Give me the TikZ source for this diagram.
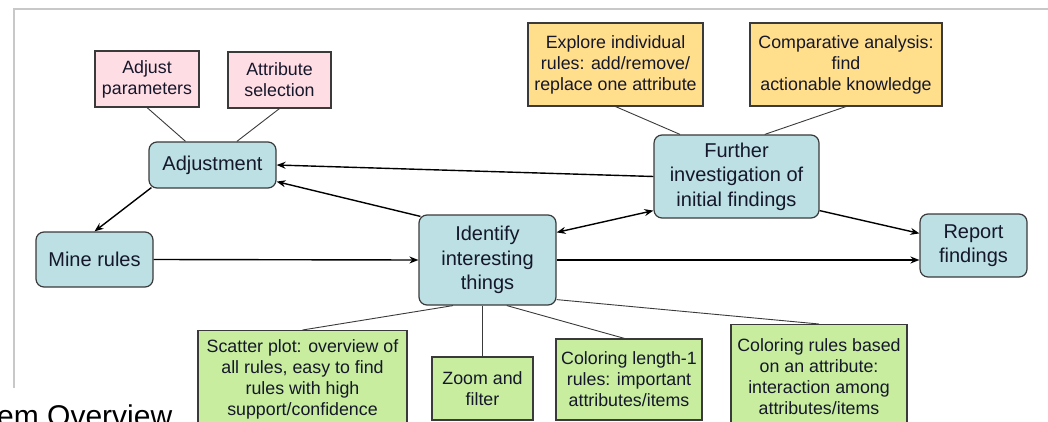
\documentclass[tikz,border=0pt]{standalone}
\usepackage{fontspec}
\setsansfont{Liberation Sans}
\usepackage{xcolor}
\definecolor{ink}{HTML}{15172A}
\definecolor{edge}{HTML}{3A3A3A}
\definecolor{cStageBg}{HTML}{BCE0E4}
\definecolor{cTuneBg}{HTML}{FFDDE4}
\definecolor{cProbeBg}{HTML}{FFDE8C}
\definecolor{cViewBg}{HTML}{C8ED9F}
\definecolor{cFrame}{HTML}{C8C8C8}
\usepackage{tikz}
\usetikzlibrary{arrows.meta,positioning,calc}
\tikzset{>={Stealth[length=9pt,width=7pt]},
  stage/.style={draw=edge,line width=1.2pt,rounded corners=8pt,fill=cStageBg,align=center,
    inner sep=2pt,text=ink,font=\sffamily\fontsize{20}{24.5}\selectfont},
  note/.style={draw=edge,line width=1.1pt,fill=cTuneBg,align=center,inner sep=2pt,
    text=ink,font=\sffamily\fontsize{17.8}{21}\selectfont},
  tunebox/.style={note,fill=cTuneBg},
  probebox/.style={note,fill=cProbeBg},
  viewbox/.style={note,fill=cViewBg},
  flow/.style={->,line width=1.4pt,black},
  flowb/.style={<->,line width=1.4pt,black},
  link/.style={line width=0.9pt,edge},
  frameline/.style={line width=2pt,cFrame}}

\begin{document}
\begin{tikzpicture}[x=1pt,y=-1pt]
  \useasboundingbox (0,0) rectangle (1048,422);
  \draw[frameline] (14,388) -- (14,9) -- (1048,9);
  \node[anchor=base west,inner sep=0pt,text=black,font=\sffamily\fontsize{30}{36}\selectfont]
    (title) at (-3,426) {em Overview};
  % main stages
  \node[stage,minimum width=127pt,minimum height=46pt] (adjust) at (212.5,165) {Adjustment};
  \node[stage,minimum width=117pt,minimum height=55pt] (mine) at (94.5,259.5) {Mine rules};
  \node[stage,minimum width=137pt,minimum height=90pt] (ident) at (487.5,260) {Identify\\interesting\\things};
  \node[stage,minimum width=165pt,minimum height=83pt] (further) at (736.5,176.5) {Further\\investigation of\\initial findings};
  \node[stage,minimum width=107pt,minimum height=63pt] (report) at (973.5,245.5) {Report\\findings};
  % annotations
  \node[tunebox,minimum width=104pt,minimum height=56pt] (adjpar) at (147,79) {Adjust\\parameters};
  \node[tunebox,minimum width=103pt,minimum height=56pt] (attsel) at (279.5,80) {Attribute\\selection};
  \node[probebox,minimum width=175pt,minimum height=83pt] (explore) at (615.5,64.5) {Explore individual\\rules: add/remove/\\replace one attribute};
  \node[probebox,minimum width=192pt,minimum height=83pt] (compar) at (846,64.5) {Comparative analysis:\\find\\actionable knowledge};
  \node[viewbox,anchor=north,minimum width=209pt,minimum height=98pt] (scatter) at (302.5,330) {Scatter plot: overview of\\all rules, easy to find\\rules with high\\support/confidence};
  \node[viewbox,minimum width=101pt,minimum height=63pt] (zoomf) at (482.5,388.5) {Zoom and\\filter};
  \node[viewbox,minimum width=146pt,minimum height=81pt] (colone) at (629,379.5) {Coloring length-1\\rules: important\\attributes/items};
  \node[viewbox,anchor=north,minimum width=176pt,minimum height=104pt] (colattr) at (819,324) {Coloring rules based\\on an attribute:\\interaction among\\attributes/items};
  % annotation links
  \draw[link] (adjpar.south) -- ($(adjust.north west)!0.29!(adjust.north east)$);
  \draw[link] (attsel.south) -- ($(adjust.north west)!0.69!(adjust.north east)$);
  \draw[link] ($(explore.south west)!0.5!(explore.south east)$) -- ($(further.north west)!0.16!(further.north east)$);
  \draw[link] (compar.south) -- ($(further.north west)!0.67!(further.north east)$);
  \draw[link] ($(ident.south west)!0.25!(ident.south east)$) -- (scatter.north);
  \draw[link] (zoomf.north |- ident.south) -- (zoomf.north);
  \draw[link] ($(ident.south west)!0.64!(ident.south east)$) -- ($(colone.north west)!0.47!(colone.north east)$);
  \draw[link] ($(ident.south east)+(0,-6)$) -- (colattr.north);
  % flow arrows
  \draw[flow] (further.west) -- (adjust.east);
  \draw[flow] ($(ident.north west)+(2,2)$) -- ($(adjust.south east)+(0,-7)$);
  \draw[flow] ($(adjust.south west)+(3,-1)$) -- (mine.north);
  \draw[flow] (mine.east) -- (ident.west);
  \draw[flowb] ($(ident.north east)+(0,18)$) -- ($(further.south west)+(0,-8)$);
  \draw[flow] ($(further.south east)+(0,-8)$) -- ($(report.north west)+(0,20)$);
  \draw[flow] (ident.east) -- (ident.east -| report.west);
\end{tikzpicture}
\end{document}
